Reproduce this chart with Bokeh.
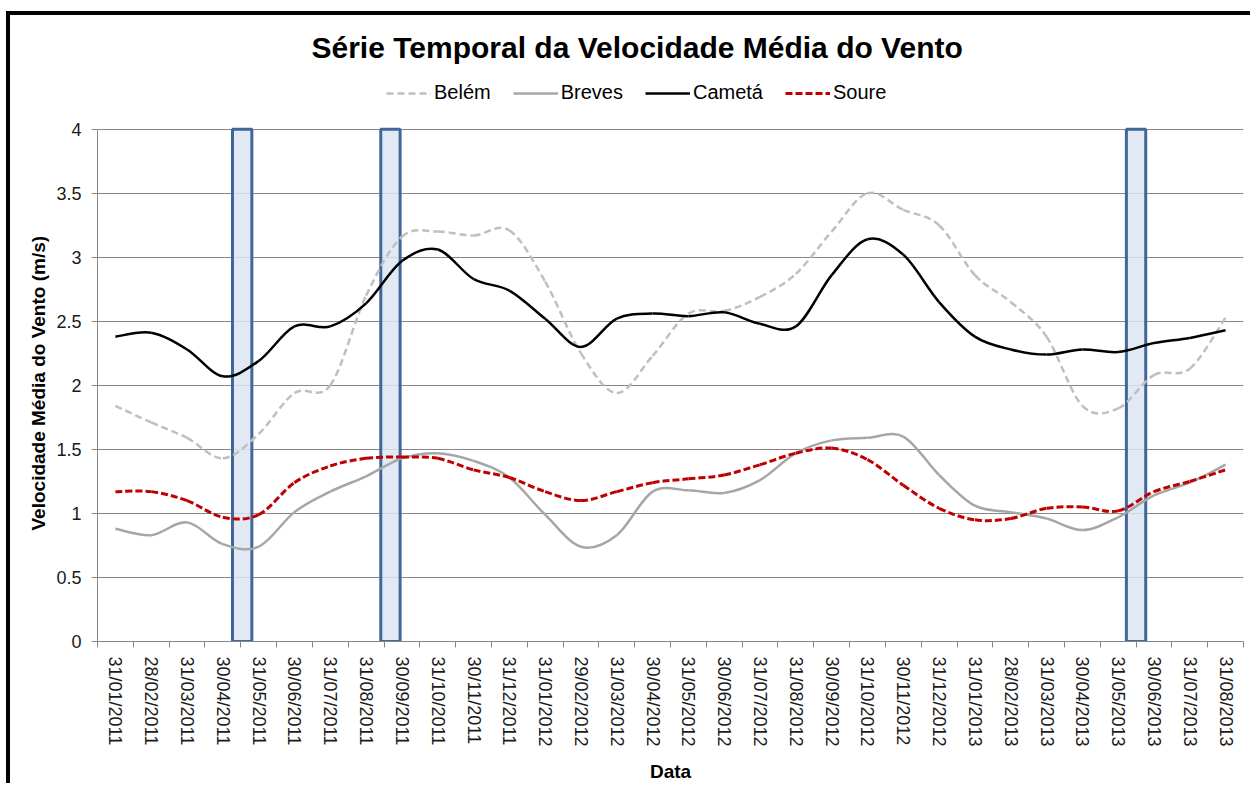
from bokeh.plotting import figure
from bokeh.models import (Range1d, FixedTicker, Legend, LegendItem, CustomJSTickFormatter,
                          Title)
from bokeh.embed import file_html
from bokeh.resources import INLINE

# ---- data -------------------------------------------------------------
dates = ["31/01/2011", "28/02/2011", "31/03/2011", "30/04/2011", "31/05/2011",
         "30/06/2011", "31/07/2011", "31/08/2011", "30/09/2011", "31/10/2011",
         "30/11/2011", "31/12/2011", "31/01/2012", "29/02/2012", "31/03/2012",
         "30/04/2012", "31/05/2012", "30/06/2012", "31/07/2012", "31/08/2012",
         "30/09/2012", "31/10/2012", "30/11/2012", "31/12/2012", "31/01/2013",
         "28/02/2013", "31/03/2013", "30/04/2013", "31/05/2013", "30/06/2013",
         "31/07/2013", "31/08/2013"]

belem = [1.84, 1.71, 1.59, 1.43, 1.62, 1.94, 2.00, 2.70, 3.16, 3.20, 3.17, 3.21,
         2.81, 2.25, 1.94, 2.23, 2.56, 2.58, 2.69, 2.87, 3.20, 3.50, 3.37, 3.25,
         2.86, 2.65, 2.38, 1.84, 1.82, 2.08, 2.13, 2.53]
breves = [0.88, 0.83, 0.93, 0.76, 0.74, 1.01, 1.17, 1.29, 1.43, 1.47, 1.41, 1.28,
          0.99, 0.74, 0.83, 1.17, 1.18, 1.16, 1.26, 1.47, 1.57, 1.59, 1.60, 1.30,
          1.06, 1.01, 0.96, 0.87, 0.97, 1.14, 1.24, 1.38]
cameta = [2.38, 2.41, 2.28, 2.07, 2.19, 2.46, 2.46, 2.64, 2.97, 3.06, 2.83, 2.74,
          2.52, 2.30, 2.52, 2.56, 2.54, 2.57, 2.48, 2.46, 2.86, 3.14, 3.02, 2.65,
          2.38, 2.28, 2.24, 2.28, 2.26, 2.33, 2.37, 2.43]
soure = [1.17, 1.17, 1.10, 0.97, 0.99, 1.24, 1.37, 1.43, 1.44, 1.43, 1.34, 1.28,
         1.17, 1.10, 1.17, 1.24, 1.27, 1.30, 1.38, 1.47, 1.51, 1.42, 1.22, 1.04,
         0.95, 0.96, 1.04, 1.05, 1.02, 1.17, 1.25, 1.34]

y_ticks = [0, 0.5, 1, 1.5, 2, 2.5, 3, 3.5, 4]
# highlighted transitions: the box sits on the boundary after these months
highlight_after = ["30/04/2011", "31/08/2011", "31/05/2013"]
highlight_shift = [0.04, 0.18, 0.0]      # small offsets (in months) seen in the figure

# ---- figure -----------------------------------------------------------
FONT = "Liberation Sans"
GRID = "#868686"
Y_MAX = 4
Y_VIEW = 4.45          # room above the plot for the legend

n = len(dates)
xs = [i + 0.5 for i in range(n)]

p = figure(width=1244, height=772, x_range=Range1d(0, n), y_range=Range1d(0, Y_VIEW),
           output_backend="svg", toolbar_location=None,
           min_border_left=87, min_border_right=11, min_border_top=56,
           min_border_bottom=146)
p.styles = {"margin-left": "6px", "margin-top": "11px",
            "border-top": "4px solid black", "border-left": "4px solid black"}
p.outline_line_color = None
p.background_fill_color = "white"
p.border_fill_color = "white"

p.title.text = "Série Temporal da Velocidade Média do Vento"
p.title.align = "left"
p.title.offset = 214
p.title.standoff = 15
p.title.text_font = FONT
p.title.text_font_size = "30px"
p.title.text_font_style = "bold"
p.title.text_color = "black"

# grid
p.xgrid.grid_line_color = None
p.ygrid.grid_line_color = GRID
p.ygrid.grid_line_width = 1

# highlight boxes
hb = [dates.index(d) + 1 + s for d, s in zip(highlight_after, highlight_shift)]
p.quad(left=[b - 0.27 for b in hb], right=[b + 0.27 for b in hb],
       bottom=[0] * len(hb), top=[Y_MAX] * len(hb),
       fill_color="#DCE6F2", fill_alpha=0.85, line_color="#41669A", line_width=3)


# smoothed series (Excel-style smoothing drawn as cubic Bezier segments)
def smooth(x, y):
    m = len(x)
    x0, y0, x1, y1, cx0, cy0, cx1, cy1 = [], [], [], [], [], [], [], []
    for i in range(m - 1):
        a = max(i - 1, 0)
        b = min(i + 2, m - 1)
        x0.append(x[i]); y0.append(y[i])
        x1.append(x[i + 1]); y1.append(y[i + 1])
        cx0.append(x[i] + (x[i + 1] - x[a]) / 6); cy0.append(y[i] + (y[i + 1] - y[a]) / 6)
        cx1.append(x[i + 1] - (x[b] - x[i]) / 6); cy1.append(y[i + 1] - (y[b] - y[i]) / 6)
    return dict(x0=x0, y0=y0, x1=x1, y1=y1, cx0=cx0, cy0=cy0, cx1=cx1, cy1=cy1)


r_belem = p.bezier(**smooth(xs, belem), line_color="#BFBFBF", line_width=2.5, line_dash="7 4")
r_breves = p.bezier(**smooth(xs, breves), line_color="#A6A6A6", line_width=2.5)
r_cameta = p.bezier(**smooth(xs, cameta), line_color="#000000", line_width=2.5)
r_soure = p.bezier(**smooth(xs, soure), line_color="#C00000", line_width=3, line_dash="7 3")

legend = Legend(items=[LegendItem(label="Belém", renderers=[r_belem]),
                       LegendItem(label="Breves", renderers=[r_breves]),
                       LegendItem(label="Cametá", renderers=[r_cameta]),
                       LegendItem(label="Soure", renderers=[r_soure])],
                orientation="horizontal", location=(289, 537), margin=0, padding=5,
                spacing=22, glyph_width=45, glyph_height=20, label_height=20,
                label_standoff=3, label_text_font=FONT, label_text_font_size="20px",
                label_text_color="black", border_line_color=None,
                background_fill_alpha=0)
p.add_layout(legend)

# x axis
xa = p.xaxis[0]
xa.ticker = FixedTicker(ticks=xs, minor_ticks=list(range(n + 1)))
xa.major_label_overrides = {x: d for x, d in zip(xs, dates)}
xa.major_label_orientation = "vertical"
xa.major_tick_out = 0
xa.major_tick_in = 0
xa.minor_tick_out = 6
xa.minor_tick_in = 0
xa.minor_tick_line_color = GRID
xa.axis_line_color = GRID
xa.major_label_standoff = 9
xa.major_label_text_font = FONT
xa.major_label_text_font_size = "18px"
xa.major_label_text_color = "#1a1a1a"
xa.axis_label = "Data"
xa.axis_label_text_font = FONT
xa.axis_label_text_font_size = "19px"
xa.axis_label_text_font_style = "bold"
xa.axis_label_text_color = "black"
xa.axis_label_standoff = 11

# y axis
ya = p.yaxis[0]
ya.ticker = FixedTicker(ticks=y_ticks)
ya.bounds = (0, Y_MAX)
ya.formatter = CustomJSTickFormatter(code="return String(tick)")
ya.major_tick_out = 6
ya.major_tick_in = 0
ya.minor_tick_out = 0
ya.minor_tick_in = 0
ya.major_tick_line_color = GRID
ya.axis_line_color = GRID
ya.major_label_standoff = 10
ya.major_label_text_font = FONT
ya.major_label_text_font_size = "18px"
ya.major_label_text_color = "#1a1a1a"

# y axis title, centred on the 0-4 part of the axis
ytitle = Title(text="Velocidade Média do Vento (m/s)", align="left", offset=111,
               standoff=10, text_font=FONT, text_font_size="19px",
               text_font_style="bold", text_color="black")
p.add_layout(ytitle, "left")

open("out.html", "w").write(file_html(p, INLINE))
